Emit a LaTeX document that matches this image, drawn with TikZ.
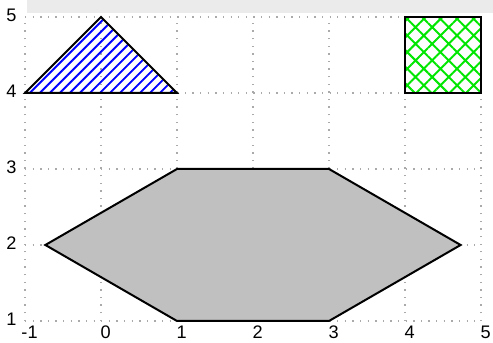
\documentclass[tikz,border=0pt]{standalone}
\usepackage{fontspec}
\setmainfont{Liberation Sans}
\usetikzlibrary{patterns.meta}
\definecolor{bandgray}{RGB}{235,235,235}
\definecolor{griddot}{RGB}{170,170,170}
\definecolor{hexfill}{RGB}{192,192,192}
\definecolor{hatchgreen}{RGB}{0,230,0}
\tikzset{
  gridline/.style={griddot, line width=0.5pt, dash pattern=on 0.5pt off 2.35pt},
  outline/.style={black, line width=0.75pt, line join=miter},
  ticklab/.style={font=\fontsize{6.8pt}{7.5pt}\selectfont, inner sep=0pt},
}
\begin{document}
\begin{tikzpicture}
\useasboundingbox (-1.3289,0.7105) rectangle (5.1579,5.2237);
% top band
\fill[bandgray] (-0.97,5.053) rectangle (5.1579,5.2237);
% grid
\foreach \x in {-1,...,5} \draw[gridline] (\x,1) -- (\x,5);
\foreach \y in {1,...,5} \draw[gridline] (-1,\y) -- (5,\y);
% triangle
\path[pattern={Lines[angle=45,distance=2.65pt,line width=0.7pt]}, pattern color=blue]
  (-1,4) -- (0,5) -- (1,4) -- cycle;
\draw[outline] (-1,4) -- (0,5) -- (1,4) -- cycle;
% square
\path[pattern={Hatch[angle=45,distance=4.4pt,line width=0.75pt]}, pattern color=hatchgreen]
  (4,4) rectangle (5,5);
\draw[outline] (4,4) rectangle (5,5);
% hexagon
\draw[outline, fill=hexfill] (-0.732,2) -- (1,3) -- (3,3) -- (4.732,2) -- (3,1) -- (1,1) -- cycle;
% tick labels
\foreach \x in {-1,...,5} \node[ticklab] (xl\x) at (\x+0.06,0.85) {\x};
\foreach \y in {1,...,5} \node[ticklab, anchor=east] (yl\y) at (-1.105,\y+0.02) {\y};
\end{tikzpicture}
\end{document}
